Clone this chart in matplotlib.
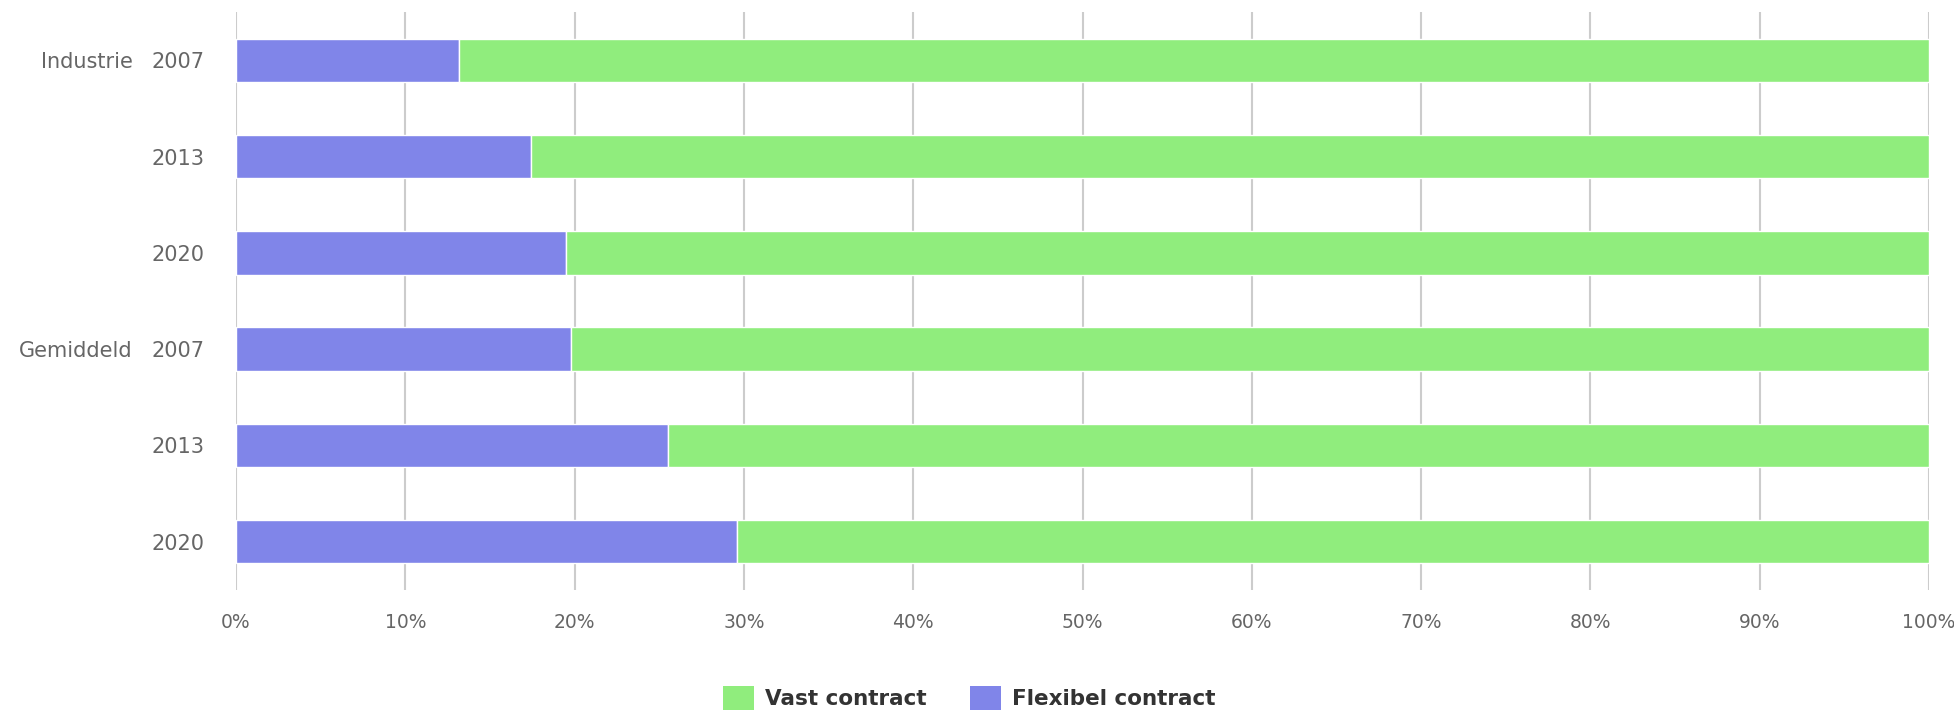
import matplotlib
matplotlib.use("Agg")
import matplotlib.pyplot as plt
from matplotlib.patches import Patch
import numpy as np

groups = ["Industrie", "", "", "Gemiddeld", "", ""]
years = ["2007", "2013", "2020", "2007", "2013", "2020"]
flexibel = [13.2, 17.4, 19.5, 19.8, 25.5, 29.6]
vast = [100 - v for v in flexibel]
xticks = [0, 10, 20, 30, 40, 50, 60, 70, 80, 90, 100]
xticklabels = [f"{t}%" for t in xticks]

col_vast = "#90ed7d"
col_flex = "#8085e9"

W, H = 1954, 711
fig = plt.figure(figsize=(W / 100, H / 100), dpi=100)
left, right, top, bottom = 236, 1929, 12.4, 589.6
ax = fig.add_axes([left / W, 1 - bottom / H, (right - left) / W, (bottom - top) / H])

y = np.arange(len(years))
bh = 0.45
ax.barh(y, flexibel, height=bh, color=col_flex, edgecolor="white", linewidth=1, zorder=3)
ax.barh(y, vast, left=flexibel, height=bh, color=col_vast, edgecolor="white", linewidth=1, zorder=3)

ax.set_xlim(0, 100)
ax.set_ylim(len(years) - 0.5, -0.5)
ax.set_xticks(xticks)
ax.set_xticklabels(xticklabels, color="#666666", fontsize=13.5)
ax.tick_params(axis="x", length=0, pad=17)
ax.set_yticks(y)
ax.set_yticklabels(years, color="#666666", fontsize=15)
ax.tick_params(axis="y", length=0, pad=22.5)
for lbl in ax.get_yticklabels():
    lbl.set_horizontalalignment("right")

for i, g in enumerate(groups):
    if g:
        ax.text(-103 / (right - left) * 100, i, g, ha="right", va="center_baseline",
                color="#666666", fontsize=15)

ax.grid(axis="x", color="#cccccc", linewidth=1.5, zorder=0)
ax.grid(axis="y", visible=False)
for s in ax.spines.values():
    s.set_visible(False)

handles = [Patch(facecolor=col_vast, edgecolor="none", label="Vast contract"),
           Patch(facecolor=col_flex, edgecolor="none", label="Flexibel contract")]
leg = fig.legend(handles=handles, loc="center", bbox_to_anchor=(0.496, 0.018), ncol=2, frameon=False,
                 prop={"size": 15.5, "weight": "bold"}, handlelength=1.45, handleheight=1.3,
                 handletextpad=0.5, columnspacing=2.0, borderaxespad=0, borderpad=0)
for t in leg.get_texts():
    t.set_color("#333333")

fig.savefig("out.png", dpi=100)
